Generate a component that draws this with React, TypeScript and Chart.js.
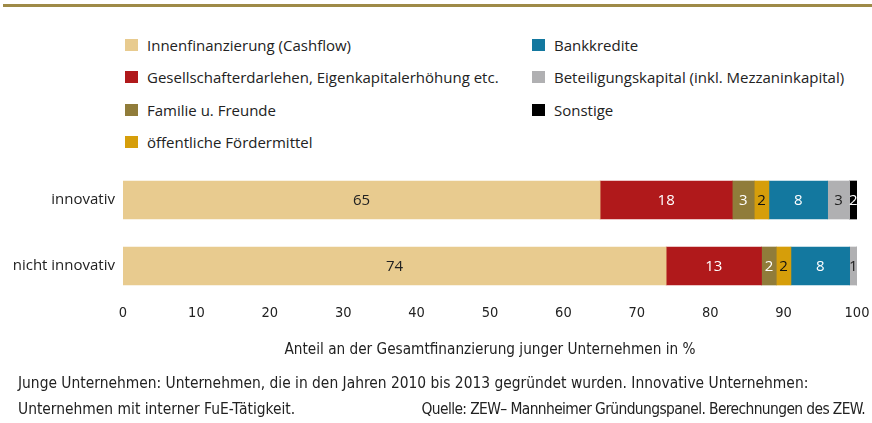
import React, { useEffect, useRef } from "react";
import { Chart, registerables } from "chart.js";

Chart.register(...registerables);

// ---------- data ----------
const categories = ["innovativ", "nicht innovativ"];

const seriesNames = [
  "Innenfinanzierung (Cashflow)",
  "Gesellschafterdarlehen, Eigenkapitalerhöhung etc.",
  "Familie u. Freunde",
  "öffentliche Fördermittel",
  "Bankkredite",
  "Beteiligungskapital (inkl. Mezzaninkapital)",
  "Sonstige",
];

const innenfinanzierung = [65, 74];
const gesellschafterdarlehen = [18, 13];
const familieFreunde = [3, 2];
const foerdermittel = [2, 2];
const bankkredite = [8, 8];
const beteiligungskapital = [3, 1];
const sonstige = [2, 0];

const xTickValues = [0, 10, 20, 30, 40, 50, 60, 70, 80, 90, 100];

const axisTitle = "Anteil an der Gesamtfinanzierung junger Unternehmen in %";
const footerLine1 =
  "Junge Unternehmen: Unternehmen, die in den Jahren 2010 bis 2013 gegründet wurden. Innovative Unternehmen:";
const footerLine2a = "Unternehmen mit interner FuE-Tätigkeit.";
const footerLine2b = "Quelle: ZEW– Mannheimer Gründungspanel. Berechnungen des ZEW.";

// ---------- styles ----------
const seriesColors = ["#E8CB8F", "#B0191B", "#907C3A", "#D69E0A", "#13789F", "#B0B0B2", "#000000"];
const labelColors = ["#222222", "#FFFFFF", "#FFFFFF", "#111111", "#FFFFFF", "#222222", "#FFFFFF"];
const seriesData = [
  innenfinanzierung,
  gesellschafterdarlehen,
  familieFreunde,
  foerdermittel,
  bankkredite,
  beteiligungskapital,
  sonstige,
];

const mainFont = "'Open Sans', 'Noto Sans', sans-serif";
const condFont = "'DejaVu Sans Condensed', 'Liberation Sans Narrow', sans-serif";
const textColor = "#222222";

const barLabels = {
  id: "barLabels",
  afterDatasetsDraw(chart: any) {
    const { ctx, chartArea } = chart;
    ctx.save();
    ctx.font = `15px ${mainFont}`;
    ctx.textAlign = "center";
    ctx.textBaseline = "middle";
    chart.data.datasets.forEach((ds: any, i: number) => {
      const meta = chart.getDatasetMeta(i);
      meta.data.forEach((el: any, j: number) => {
        const v = ds.data[j];
        if (!v) return;
        const { x, y, base } = el.getProps(["x", "y", "base"], true);
        const l = Math.max(Math.min(x, base), chartArea.left);
        const r = Math.min(Math.max(x, base), chartArea.right);
        ctx.fillStyle = labelColors[i];
        ctx.fillText(String(v), (l + r) / 2, y + 1);
      });
    });
    ctx.restore();
  },
};

export default function App() {
  const canvasRef = useRef<HTMLCanvasElement | null>(null);

  useEffect(() => {
    if (!canvasRef.current) return;
    const chart = new Chart(canvasRef.current, {
      type: "bar",
      data: {
        labels: categories,
        datasets: seriesData.map((d, i) => ({
          label: seriesNames[i],
          data: d,
          backgroundColor: seriesColors[i],
          borderWidth: 0,
          barThickness: 38,
        })),
      },
      options: {
        indexAxis: "y",
        responsive: false,
        animation: false,
        layout: { padding: { left: 0, right: 15, top: 167, bottom: 54 } },
        plugins: {
          legend: { display: false },
          tooltip: { enabled: false },
          title: { display: false },
        },
        scales: {
          x: {
            type: "linear",
            stacked: true,
            min: 0,
            max: 100,
            afterBuildTicks: (scale: any) => {
              scale.ticks = xTickValues.map((v) => ({ value: v }));
            },
            grid: { display: false, drawTicks: false },
            border: { display: false },
            ticks: {
              color: textColor,
              font: { family: condFont, size: 14.5 },
              padding: 6,
              maxRotation: 0,
            },
            title: {
              display: true,
              text: axisTitle,
              color: textColor,
              font: { family: condFont, size: 15.2 },
              padding: { top: 0, bottom: 10 },
            },
            afterFit: (scale: any) => {
              scale.height = 70;
              scale.paddingLeft = 0;
              scale.paddingRight = 0;
            },
          },
          y: {
            type: "category",
            stacked: true,
            grid: { display: false, drawTicks: false },
            border: { display: false },
            ticks: {
              color: textColor,
              font: { family: mainFont, size: 15 },
              padding: 8,
            },
            afterFit: (scale: any) => {
              scale.width = 123;
            },
          },
        },
      } as any,
      plugins: [barLabels],
    });
    return () => chart.destroy();
  }, []);

  const legendCols = [
    { x: 125, items: [0, 1, 2, 3] },
    { x: 532, items: [4, 5, 6] },
  ];
  const rowY = [45, 77, 109.5, 142];

  const footerStyle: React.CSSProperties = {
    position: "absolute",
    lineHeight: "20px",
    fontFamily: condFont,
    fontSize: 15.4,
    color: textColor,
    whiteSpace: "nowrap",
  };

  return (
    <div
      style={{
        position: "absolute",
        left: 0,
        top: 0,
        width: 872,
        height: 423,
        background: "#ffffff",
        overflow: "hidden",
      }}
    >
      <div
        style={{
          position: "absolute",
          left: 3,
          right: 0,
          top: 4,
          height: 3,
          background: "#9E8A47",
        }}
      />
      {legendCols.map((col, ci) =>
        col.items.map((si, ri) => (
          <div key={`${ci}-${ri}`}>
            <div
              style={{
                position: "absolute",
                left: col.x,
                top: rowY[ri] - 6,
                width: 13,
                height: 12,
                background: seriesColors[si],
              }}
            />
            <div
              style={{
                position: "absolute",
                left: col.x + 22,
                top: rowY[ri] - 11,
                height: 22,
                lineHeight: "22px",
                fontFamily: mainFont,
                fontSize: 15,
                color: textColor,
                whiteSpace: "nowrap",
              }}
            >
              {seriesNames[si]}
            </div>
          </div>
        ))
      )}
      <canvas
        ref={canvasRef}
        width={872}
        height={423}
        style={{ position: "absolute", left: 0, top: 0, width: 872, height: 423 }}
      />
      <div style={{ ...footerStyle, left: 18, top: 373 }}>{footerLine1}</div>
      <div style={{ ...footerStyle, left: 18, top: 399 }}>{footerLine2a}</div>
      <div style={{ ...footerStyle, right: 7, top: 399, letterSpacing: "-0.6px" }}>{footerLine2b}</div>
    </div>
  );
}
